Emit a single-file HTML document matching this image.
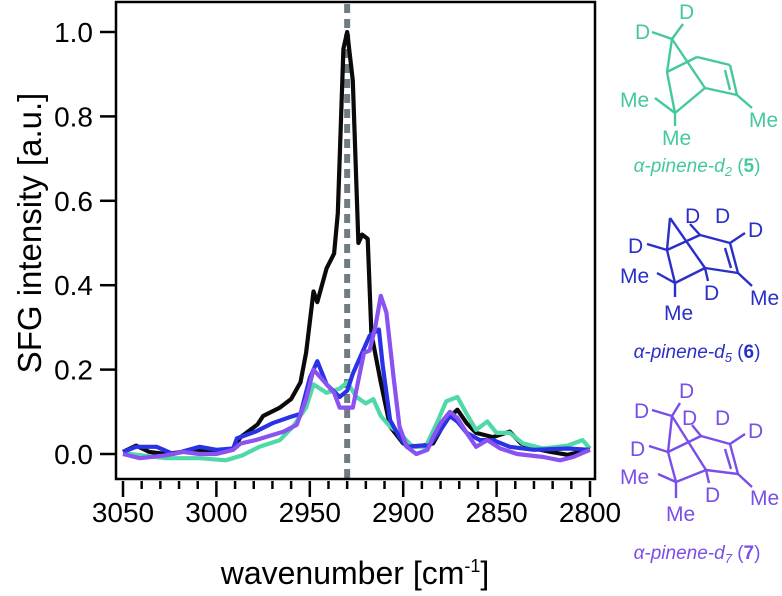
<!DOCTYPE html>
<html><head><meta charset="utf-8"><style>
body{margin:0;background:#fff;}
svg{display:block;font-family:"Liberation Sans",sans-serif;}
</style></head><body>
<svg id="chart" width="782" height="596" viewBox="0 0 782 596">
<g id="plot"></g>
<g id="axes"></g>
<text transform="translate(41,233) rotate(-90)" text-anchor="middle" font-size="33">SFG intensity [a.u.]</text>
<text x="355" y="584" text-anchor="middle" font-size="32">wavenumber [cm<tspan font-size="18" dy="-12">-1</tspan><tspan dy="12">]</tspan></text>

<g stroke="#45c99c" stroke-width="2.4" fill="#45c99c" font-size="21">
<g fill="none">
<line x1="652" y1="32" x2="672" y2="39"/><line x1="683" y1="24" x2="672" y2="39"/>
<line x1="672" y1="39" x2="667" y2="72"/><line x1="672" y1="39" x2="705" y2="88"/>
<line x1="667" y1="72" x2="675" y2="113"/><line x1="675" y1="113" x2="705" y2="88"/>
<line x1="667" y1="72" x2="697" y2="57"/><line x1="697" y1="57" x2="730" y2="65"/>
<line x1="730" y1="65" x2="737" y2="95"/><line x1="725" y1="70" x2="730" y2="90"/>
<line x1="705" y1="88" x2="737" y2="95"/><line x1="737" y1="95" x2="752" y2="108"/>
<line x1="655" y1="98" x2="675" y2="113"/><line x1="675" y1="113" x2="675" y2="126"/>
</g>
<g stroke="none"><text x="679" y="19">D</text><text x="635" y="39">D</text>
<text x="620" y="107">Me</text><text x="749" y="127">Me</text><text x="662" y="145">Me</text>
<text x="697" y="172" text-anchor="middle" font-size="19"><tspan font-style="italic">α-pinene-d<tspan font-size="13" dy="4">2</tspan></tspan><tspan dy="-4"> (</tspan><tspan font-weight="bold">5</tspan>)</text></g>
</g>

<g stroke="#2a2fc8" stroke-width="2.4" fill="#2a2fc8" font-size="21">
<g fill="none">
<line x1="670" y1="218" x2="667" y2="250"/><line x1="670" y1="218" x2="705" y2="268"/>
<line x1="667" y1="250" x2="700" y2="235"/><line x1="700" y1="235" x2="730" y2="243"/>
<line x1="730" y1="243" x2="738" y2="273"/><line x1="725" y1="248" x2="731" y2="268"/>
<line x1="705" y1="268" x2="738" y2="273"/><line x1="667" y1="250" x2="675" y2="283"/>
<line x1="675" y1="283" x2="705" y2="268"/><line x1="647" y1="244" x2="667" y2="250"/>
<line x1="700" y1="235" x2="690" y2="224"/><line x1="730" y1="243" x2="745" y2="233"/>
<line x1="705" y1="268" x2="708" y2="281"/><line x1="657" y1="273" x2="675" y2="283"/>
<line x1="675" y1="283" x2="675" y2="297"/><line x1="738" y1="273" x2="752" y2="286"/>
</g>
<g stroke="none"><text x="685" y="223">D</text><text x="715" y="223">D</text><text x="748" y="237">D</text>
<text x="628" y="253">D</text><text x="704" y="300">D</text><text x="620" y="283">Me</text>
<text x="750" y="305">Me</text><text x="664" y="320">Me</text>
<text x="697" y="358" text-anchor="middle" font-size="19"><tspan font-style="italic">α-pinene-d<tspan font-size="13" dy="4">5</tspan></tspan><tspan dy="-4"> (</tspan><tspan font-weight="bold">6</tspan>)</text></g>
</g>

<g stroke="#7a4ee8" stroke-width="2.4" fill="#7a4ee8" font-size="21">
<g fill="none">
<line x1="672" y1="416" x2="668" y2="452"/><line x1="672" y1="416" x2="706" y2="470"/>
<line x1="668" y1="452" x2="701" y2="436"/><line x1="701" y1="436" x2="730" y2="444"/>
<line x1="730" y1="444" x2="738" y2="474"/><line x1="725" y1="449" x2="731" y2="469"/>
<line x1="706" y1="470" x2="738" y2="474"/><line x1="668" y1="452" x2="676" y2="482"/>
<line x1="676" y1="482" x2="706" y2="470"/><line x1="649" y1="446" x2="668" y2="452"/>
<line x1="652" y1="410" x2="672" y2="416"/><line x1="672" y1="416" x2="680" y2="403"/>
<line x1="701" y1="436" x2="692" y2="425"/><line x1="730" y1="444" x2="745" y2="434"/>
<line x1="706" y1="470" x2="709" y2="483"/><line x1="658" y1="474" x2="676" y2="482"/>
<line x1="676" y1="482" x2="676" y2="498"/><line x1="738" y1="474" x2="752" y2="487"/>
</g>
<g stroke="none"><text x="679" y="398">D</text><text x="634" y="418">D</text><text x="682" y="425">D</text>
<text x="715" y="425">D</text><text x="748" y="438">D</text><text x="630" y="456">D</text>
<text x="705" y="502">D</text><text x="620" y="484">Me</text><text x="750" y="505">Me</text><text x="666" y="521">Me</text>
<text x="697" y="559" text-anchor="middle" font-size="19"><tspan font-style="italic">α-pinene-d<tspan font-size="13" dy="4">7</tspan></tspan><tspan dy="-4"> (</tspan><tspan font-weight="bold">7</tspan>)</text></g>
</g>
</svg>
<script>
const yTicks = [0.0, 0.2, 0.4, 0.6, 0.8, 1.0];
const xTicks = [3050, 3000, 2950, 2900, 2850, 2800];
const markerWn = 2930;
const wnBlack = [3050,3043,3036,3027,3009,3000,2991,2987,2978,2975,2966,2960,2955,2952,2948,2946,2941,2937,2935,2932,2930,2927,2924,2922,2919,2917,2912,2907,2900,2893,2884,2877,2871,2866,2861,2852,2843,2837,2830,2821,2812,2800];
const valBlack = [0.005,0.02,0.005,0.0,0.01,0.005,0.013,0.04,0.07,0.09,0.11,0.13,0.17,0.24,0.385,0.36,0.44,0.475,0.57,0.96,1.0,0.885,0.5,0.52,0.51,0.285,0.17,0.065,0.025,0.017,0.025,0.08,0.105,0.073,0.05,0.04,0.053,0.025,0.013,0.005,-0.002,0.01];
const wnTeal = [3050,3027,3009,2995,2986,2977,2966,2959,2952,2948,2941,2934,2930,2925,2920,2916,2912,2907,2902,2895,2888,2882,2877,2871,2866,2861,2855,2850,2843,2836,2825,2812,2804,2800];
const valTeal = [0.002,-0.01,-0.01,-0.015,-0.003,0.017,0.033,0.065,0.11,0.165,0.145,0.155,0.17,0.135,0.12,0.13,0.09,0.065,0.05,0.017,0.017,0.073,0.125,0.135,0.095,0.057,0.077,0.05,0.05,0.025,0.013,0.02,0.033,0.013];
const wnBlue = [3050,3043,3032,3023,3009,3000,2991,2989,2979,2970,2961,2955,2950,2946,2941,2934,2930,2927,2921,2918,2913,2911,2907,2902,2898,2891,2886,2880,2875,2871,2866,2859,2852,2843,2830,2812,2800];
const valBlue = [0.005,0.017,0.017,0.0,0.017,0.01,0.013,0.037,0.053,0.073,0.087,0.095,0.18,0.22,0.165,0.135,0.15,0.19,0.25,0.28,0.295,0.21,0.08,0.04,0.017,0.02,0.02,0.057,0.09,0.077,0.05,0.033,0.033,0.017,0.01,0.013,0.01];
const wnPurple = [3050,3041,3027,3018,3009,3000,2991,2987,2979,2970,2964,2957,2952,2948,2943,2937,2934,2927,2921,2918,2915,2912,2909,2905,2902,2898,2893,2887,2884,2880,2875,2871,2866,2861,2855,2848,2839,2825,2816,2809,2800];
const valPurple = [0.0,-0.01,-0.003,0.005,0.0,0.0,0.01,0.025,0.033,0.045,0.053,0.069,0.13,0.2,0.175,0.145,0.11,0.11,0.24,0.245,0.3,0.375,0.335,0.175,0.065,0.017,0.0,0.01,0.04,0.073,0.1,0.085,0.05,0.017,0.033,0.013,0.0,-0.007,-0.015,-0.007,0.01];

const X0 = 123, X1 = 590, Y0 = 454, Y1 = 32;
const xs = w => X0 + (3050 - w) / 250 * (X1 - X0);
const ys = v => Y0 - v * (Y0 - Y1);
const NS = 'http://www.w3.org/2000/svg';
const plot = document.getElementById('plot');
const axes = document.getElementById('axes');
function mk(tag, attrs, parent) {
  const e = document.createElementNS(NS, tag);
  for (const k in attrs) e.setAttribute(k, attrs[k]);
  parent.appendChild(e);
  return e;
}
const dash = mk('line', {x1: xs(markerWn), x2: xs(markerWn), y1: 4, y2: 478, stroke: '#6f7c82', 'stroke-width': 6, 'stroke-dasharray': '9 6'}, plot);



function series(wn, vals, color, name) {
  const d = wn.map((w, i) => (i ? 'L' : 'M') + xs(w).toFixed(1) + ',' + ys(vals[i]).toFixed(1)).join('');
  const p = mk('path', {d: d, fill: 'none', stroke: color, 'stroke-width': 4.2, 'stroke-linejoin': 'round'}, plot);
  
  
}
series(wnBlack, valBlack, '#0a0a0a', 'series-alpha-pinene');
series(wnTeal, valTeal, '#4fd8a8', 'series-d2');
series(wnBlue, valBlue, '#2a32e6', 'series-d5');
series(wnPurple, valPurple, '#8a52f0', 'series-d7');

const frame = mk('rect', {x: 116, y: 2, width: 479, height: 477, fill: 'none', stroke: '#000', 'stroke-width': 2.5}, axes);


yTicks.forEach(t => {
  mk('line', {x1: 100, x2: 116, y1: ys(t), y2: ys(t), stroke: '#000', 'stroke-width': 2.5}, axes);
  const tx = mk('text', {x: 93, y: ys(t) + 10, 'text-anchor': 'end', 'font-size': 28}, axes);
  tx.textContent = t.toFixed(1);
  
  
});
for (let w = 3050; w >= 2800; w -= 10) {
  const major = w % 50 === 0;
  mk('line', {x1: xs(w), x2: xs(w), y1: 481, y2: major ? 497 : 489, stroke: '#000', 'stroke-width': 2.5}, axes);
}
xTicks.forEach(t => {
  const tx = mk('text', {x: xs(t), y: 522, 'text-anchor': 'middle', 'font-size': 28}, axes);
  tx.textContent = t;
  
  
});
</script>
</body></html>
